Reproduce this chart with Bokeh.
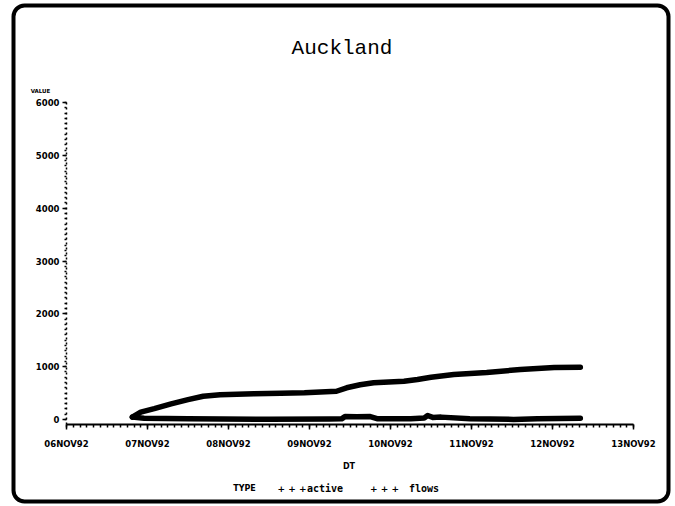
import pandas as pd
from bokeh.plotting import figure
from bokeh.models import Label, FixedTicker, DatetimeTickFormatter, Range1d, ColumnDataSource, BoxAnnotation
from bokeh.embed import file_html
from bokeh.resources import INLINE

# ---- data ----
active_time = ["1992-11-06 19:30", "1992-11-06 22:00", "1992-11-07 02:00", "1992-11-07 07:00",
               "1992-11-07 12:00", "1992-11-07 16:30", "1992-11-07 21:30", "1992-11-08 07:30",
               "1992-11-08 15:30", "1992-11-08 22:30", "1992-11-09 08:00", "1992-11-09 11:00",
               "1992-11-09 15:00", "1992-11-09 19:00", "1992-11-10 04:00", "1992-11-10 08:00",
               "1992-11-10 12:00", "1992-11-10 18:45", "1992-11-11 04:30", "1992-11-11 14:30",
               "1992-11-12 00:30", "1992-11-12 08:15"]
active_value = [45, 140, 205, 295, 375, 440, 467, 486, 498, 505, 535, 600,
                657, 695, 725, 757, 800, 852, 890, 946, 985, 990]

flows_time = ["1992-11-06 19:30", "1992-11-06 23:00", "1992-11-07 12:00", "1992-11-08 12:00",
              "1992-11-09 06:00", "1992-11-09 09:30", "1992-11-09 10:30", "1992-11-09 14:00",
              "1992-11-09 18:00", "1992-11-09 20:00", "1992-11-10 06:00", "1992-11-10 10:00",
              "1992-11-10 11:00", "1992-11-10 12:30", "1992-11-10 15:00", "1992-11-10 23:30",
              "1992-11-11 12:30", "1992-11-11 19:30", "1992-11-12 08:15"]
flows_value = [45, 25, 12, 5, 8, 12, 55, 50, 55, 15, 12, 30, 75, 40, 45, 13, 2, 13, 25]

day_ticks = ["1992-11-06", "1992-11-07", "1992-11-08", "1992-11-09",
             "1992-11-10", "1992-11-11", "1992-11-12", "1992-11-13"]
day_labels = ["06NOV92", "07NOV92", "08NOV92", "09NOV92", "10NOV92", "11NOV92", "12NOV92", "13NOV92"]
y_ticks = [0, 1000, 2000, 3000, 4000, 5000, 6000]
y_labels = ["0", "1000", "2000", "3000", "4000", "5000", "6000"]
legend_types = ["active", "flows"]


def ms(s):
    return pd.Timestamp(s).value / 1e6


DAY = 86400000.0
W, H = 675, 506

# layout geometry (pixels of the picture)
AX_LEFT, AX_RIGHT = 66, 633      # 06NOV92 .. 13NOV92
Y0_PX, PX_PER_UNIT = 419, 0.05283  # y pixel of value 0, pixels per unit
AXIS_Y = -95                      # value at which the x axis line lies

x0 = ms(day_ticks[0])
x1 = ms(day_ticks[-1])
px_per_ms = (AX_RIGHT - AX_LEFT) / (x1 - x0)
xr = Range1d(x0 - AX_LEFT / px_per_ms, x1 + (W - AX_RIGHT) / px_per_ms)
yr = Range1d(-(H - Y0_PX) / PX_PER_UNIT, Y0_PX / PX_PER_UNIT)

p = figure(width=W, height=H, output_backend="svg", toolbar_location=None,
           x_axis_type="datetime", x_range=xr, y_range=yr,
           min_border=0, min_border_left=0, min_border_right=0,
           min_border_top=0, min_border_bottom=0)
p.border_fill_color = "white"
p.background_fill_color = "white"
p.outline_line_color = None
p.xgrid.visible = False
p.ygrid.visible = False

src_a = ColumnDataSource(dict(t=pd.to_datetime(active_time), v=active_value))
src_f = ColumnDataSource(dict(t=pd.to_datetime(flows_time), v=flows_value))
p.line("t", "v", source=src_a, line_color="black", line_width=5.5, line_cap="round", line_join="round")
p.line("t", "v", source=src_f, line_color="black", line_width=5.5, line_cap="round", line_join="round")

# x axis
xticks = [ms(d) for d in day_ticks]
xminor = [x0 + i * DAY / 12 for i in range(7 * 12 + 1)]
xa = p.xaxis[0]
xa.fixed_location = AXIS_Y
xa.bounds = (x0, x1)
xa.ticker = FixedTicker(ticks=xticks, minor_ticks=xminor)
xa.formatter = DatetimeTickFormatter(days="%d%b%y")
xa.major_label_overrides = {t: lab for t, lab in zip(xticks, day_labels)}
xa.axis_line_width = 2
xa.major_tick_out = 5
xa.major_tick_in = 0
xa.minor_tick_out = 3
xa.minor_tick_in = 0
xa.major_tick_line_width = 1.5
xa.minor_tick_line_width = 1.5
xa.major_label_standoff = 9
xa.major_label_text_font = "DejaVu Sans"
xa.major_label_text_font_style = "bold"
xa.major_label_text_font_size = "8.5px"
xa.major_label_text_color = "black"

# y axis
ya = p.yaxis[0]
ya.fixed_location = x0
ya.bounds = (AXIS_Y, y_ticks[-1])
ya.ticker = FixedTicker(ticks=y_ticks, minor_ticks=list(range(0, 6001, 100)))
ya.major_label_overrides = {t: lab for t, lab in zip(y_ticks, y_labels)}
ya.axis_line_dash = "2 3"
ya.axis_line_width = 1.5
ya.major_tick_out = 4
ya.major_tick_in = 0
ya.minor_tick_out = 2
ya.minor_tick_in = 0
ya.major_tick_line_width = 1.5
ya.minor_tick_line_width = 1.5
ya.major_label_standoff = 3
ya.major_label_text_font = "DejaVu Sans"
ya.major_label_text_font_style = "bold"
ya.major_label_text_font_size = "8.5px"
ya.major_label_text_color = "black"

# rounded frame around the whole picture (screen units, y measured from the bottom)
p.add_layout(BoxAnnotation(left=13, right=668, top=H - 5, bottom=5,
                           left_units="screen", right_units="screen",
                           top_units="screen", bottom_units="screen",
                           fill_color=None, fill_alpha=0, line_color="black", line_alpha=1.0,
                           line_width=4, border_radius=11))


def add_label(text, px, py, font, size, style="bold"):
    # px, py: pixel position of the text centre, from the picture's top-left corner
    p.add_layout(Label(x=px, y=H - py, x_units="screen", y_units="screen",
                       text=text, text_align="center", text_baseline="middle",
                       text_font=font, text_font_size=size, text_font_style=style,
                       text_color="black"))


add_label("Auckland", 341.5, 48, "Liberation Mono", "21px", "normal")
add_label("VALUE", 40, 90.5, "DejaVu Sans", "5.5px")
add_label("DT", 348.5, 466, "DejaVu Sans", "8px")
add_label("TYPE", 244, 488, "DejaVu Sans", "8px")
add_label("+ + +", 291.5, 488, "DejaVu Sans", "9px")
add_label(legend_types[0], 324.5, 488, "DejaVu Sans Mono", "10px")
add_label("+ + +", 384, 488, "DejaVu Sans", "9px")
add_label(legend_types[1], 423.5, 488, "DejaVu Sans Mono", "10px")

open("out.html", "w").write(file_html(p, INLINE))
